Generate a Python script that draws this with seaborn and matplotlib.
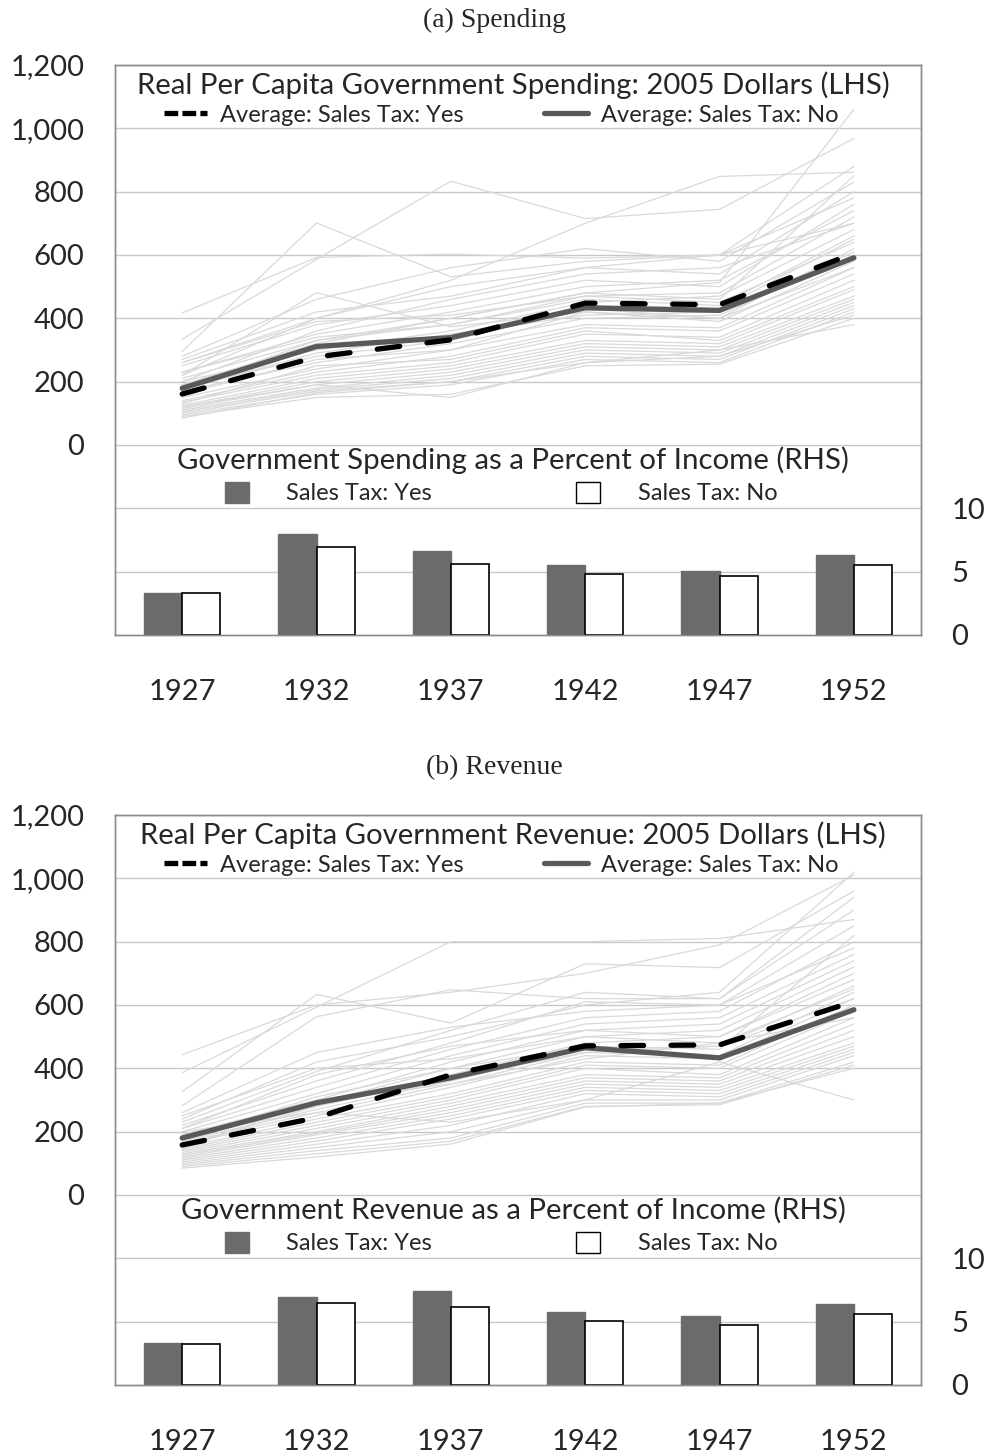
import numpy as np
import pandas as pd
import matplotlib.pyplot as plt
import seaborn as sns
from matplotlib.lines import Line2D
from matplotlib.patches import Patch
from matplotlib.ticker import FuncFormatter

sns.set_style("white")
plt.rcParams["font.family"] = ["Lato", "DejaVu Sans"]

years = ["1927", "1932", "1937", "1942", "1947", "1952"]

# averages, real per capita (2005 dollars)
spend_avg_yes = [161, 278, 332, 448, 443, 605]
spend_avg_no = [179, 311, 339, 433, 425, 591]
rev_avg_yes = [158, 244, 380, 471, 474, 611]
rev_avg_no = [180, 291, 370, 465, 433, 585]

# percent of income
spend_pct_yes = [3.33, 7.95, 6.59, 5.49, 5.06, 6.32]
spend_pct_no = [3.28, 6.95, 5.59, 4.78, 4.65, 5.54]
rev_pct_yes = [3.28, 6.98, 7.43, 5.77, 5.48, 6.37]
rev_pct_no = [3.23, 6.48, 6.17, 5.05, 4.74, 5.61]

# individual states (light grey lines)
spend_states = [
    [417, 592, 603, 590, 600, 880],
    [334, 586, 833, 715, 744, 968],
    [295, 701, 531, 580, 600, 700],
    [220, 481, 373, 420, 400, 560],
    [260, 400, 520, 700, 848, 861],
    [180, 330, 400, 480, 513, 1060],
    [270, 420, 470, 560, 540, 800],
    [250, 380, 440, 520, 500, 760],
    [230, 350, 420, 500, 520, 740],
    [210, 330, 380, 470, 480, 720],
    [200, 300, 360, 450, 470, 680],
    [190, 310, 340, 440, 430, 650],
    [180, 280, 330, 430, 400, 620],
    [170, 260, 320, 400, 410, 600],
    [160, 270, 300, 420, 390, 580],
    [150, 240, 300, 380, 370, 560],
    [140, 230, 280, 370, 360, 540],
    [135, 220, 260, 350, 340, 520],
    [130, 250, 270, 360, 330, 500],
    [125, 210, 250, 330, 320, 490],
    [120, 200, 240, 320, 310, 470],
    [115, 190, 230, 310, 300, 460],
    [110, 180, 220, 300, 290, 450],
    [105, 175, 210, 290, 280, 440],
    [100, 170, 200, 280, 270, 430],
    [95, 160, 190, 270, 260, 420],
    [90, 150, 160, 250, 255, 400],
    [85, 165, 200, 260, 300, 380],
    [120, 190, 150, 260, 280, 410],
    [280, 460, 560, 620, 580, 830],
    [220, 400, 500, 560, 600, 780],
    [200, 360, 460, 540, 560, 700],
    [260, 390, 410, 470, 450, 640],
    [190, 320, 400, 480, 460, 850],
    [230, 340, 380, 460, 440, 660],
    [175, 290, 350, 410, 420, 610],
]

rev_states = [
    [443, 600, 640, 700, 790, 1010],
    [386, 593, 800, 800, 810, 870],
    [326, 633, 543, 730, 718, 960],
    [282, 563, 648, 620, 620, 940],
    [230, 390, 520, 640, 620, 900],
    [220, 360, 480, 610, 600, 850],
    [210, 340, 460, 560, 580, 800],
    [200, 320, 440, 540, 560, 760],
    [190, 300, 420, 520, 540, 740],
    [185, 290, 400, 500, 520, 720],
    [180, 280, 380, 480, 500, 700],
    [170, 270, 360, 460, 470, 660],
    [165, 260, 350, 450, 440, 640],
    [160, 250, 340, 440, 430, 620],
    [150, 240, 320, 420, 410, 600],
    [145, 230, 310, 410, 400, 580],
    [140, 220, 300, 400, 380, 560],
    [135, 210, 290, 380, 370, 540],
    [130, 200, 280, 370, 360, 520],
    [125, 195, 270, 360, 350, 500],
    [120, 190, 260, 350, 340, 480],
    [115, 180, 250, 340, 330, 470],
    [110, 170, 240, 330, 320, 460],
    [105, 160, 220, 320, 310, 450],
    [100, 150, 200, 300, 300, 440],
    [95, 140, 180, 290, 290, 420],
    [90, 130, 170, 280, 285, 410],
    [85, 120, 161, 278, 290, 400],
    [200, 260, 230, 300, 420, 300],
    [240, 420, 500, 600, 640, 1019],
    [260, 450, 530, 580, 600, 780],
    [210, 380, 470, 520, 500, 680],
    [175, 310, 400, 470, 460, 820],
    [155, 280, 370, 450, 470, 620],
    [145, 300, 350, 430, 480, 560],
    [250, 400, 430, 500, 480, 650],
]

FRAME = "#8c8c8c"
GRID = "#c8c8c8"


def draw_panel(ax, states, avg_yes, avg_no, pct_yes, pct_no, line_title, bar_title):
    pos = np.arange(len(years))
    ax2 = ax.twinx()

    # bars on the right-hand axis
    bars = pd.DataFrame({"year": years * 2,
                         "pct": pct_yes + pct_no,
                         "tax": ["Yes"] * len(years) + ["No"] * len(years)})
    sns.barplot(data=bars, x="year", y="pct", hue="tax", hue_order=["Yes", "No"],
                palette={"Yes": "#6b6b6b", "No": "white"}, width=0.57,
                errorbar=None, legend=False, ax=ax2)
    for p in ax2.containers[0]:
        p.set_edgecolor("#6b6b6b")
        p.set_linewidth(1)
    for p in ax2.containers[1]:
        p.set_edgecolor("black")
        p.set_linewidth(1.2)

    # state lines and averages on the left-hand axis
    st = pd.DataFrame([(i, pos[j], v) for i, row in enumerate(states) for j, v in enumerate(row)],
                      columns=["state", "x", "value"])
    sns.lineplot(data=st, x="x", y="value", units="state", estimator=None,
                 color="#d9d9d9", lw=0.9, legend=False, ax=ax)
    sns.lineplot(x=pos, y=avg_no, color="#595959", lw=3.8, ax=ax, solid_capstyle="round")
    sns.lineplot(x=pos, y=avg_yes, color="black", lw=3.8, ax=ax,
                 linestyle=(0, (4.3, 5.2)), dash_capstyle="round")

    ax.set_ylim(-600, 1200)
    ax.set_yticks(range(-400, 1201, 200))
    ax.yaxis.set_major_formatter(FuncFormatter(lambda v, _: f"{int(v):,}" if v >= 0 else ""))
    ax.grid(axis="y", color=GRID, lw=1)
    ax.grid(axis="x", visible=False)
    ax.tick_params(axis="y", length=0, pad=22, labelsize=21)
    ax.set_xlabel("")
    ax.set_ylabel("")

    ax2.set_ylim(0, 45)
    ax2.set_yticks([0, 5, 10])
    ax2.tick_params(axis="y", length=0, pad=22, labelsize=21)
    ax2.grid(False)
    ax2.set_ylabel("")

    ax.set_xlim(-0.5, len(years) - 0.5)
    ax.set_xticks(np.arange(-0.5, len(years)))
    ax.set_xticklabels([""] * (len(years) + 1))
    ax.set_xticks(pos, minor=True)
    ax.set_xticklabels(years, minor=True)
    ax.tick_params(axis="x", which="major", length=8, color=FRAME, direction="out")
    ax.tick_params(axis="x", which="minor", length=0, pad=32, labelsize=21)

    for a in (ax, ax2):
        for s in a.spines.values():
            s.set_color(FRAME)
            s.set_linewidth(1)

    # legend titles as plain text, entries as legends
    ax.text(0.494, 0.965, line_title, transform=ax.transAxes, ha="center", va="center",
            fontsize=21.2)
    h1 = [Line2D([], [], color="black", lw=3.8, linestyle=(0, (2.6, 0.8))),
          Line2D([], [], color="#595959", lw=3.8)]
    ax.legend(h1, ["Average: Sales Tax: Yes", "Average: Sales Tax: No"],
              ncol=2, loc="center", bbox_to_anchor=(0.479, 0.912), frameon=False,
              fontsize=17, handlelength=1.85, handletextpad=0.55,
              columnspacing=3.4, borderpad=0.1)

    ax2.text(0.494, 0.307, bar_title, transform=ax2.transAxes, ha="center", va="center",
             fontsize=21.2)
    h2 = [Patch(facecolor="#6b6b6b", edgecolor="#6b6b6b"),
          Patch(facecolor="white", edgecolor="black")]
    ax2.legend(h2, ["Sales Tax: Yes", "Sales Tax: No"],
               ncol=2, loc="center", bbox_to_anchor=(0.479, 0.249), frameon=False,
               fontsize=17, handlelength=1.0, handleheight=1.0,
               handletextpad=1.6, columnspacing=6.1, borderpad=0.1)


fig = plt.figure(figsize=(9.89, 14.53), dpi=100)
ax_a = fig.add_axes([0.1163, 0.5630, 0.815, 0.3923])
ax_b = fig.add_axes([0.1163, 0.0468, 0.815, 0.3923])

draw_panel(ax_a, spend_states, spend_avg_yes, spend_avg_no, spend_pct_yes, spend_pct_no,
           "Real Per Capita Government Spending: 2005 Dollars (LHS)",
           "Government Spending as a Percent of Income (RHS)")
draw_panel(ax_b, rev_states, rev_avg_yes, rev_avg_no, rev_pct_yes, rev_pct_no,
           "Real Per Capita Government Revenue: 2005 Dollars (LHS)",
           "Government Revenue as a Percent of Income (RHS)")

fig.text(0.5, 0.9862, "(a) Spending", ha="center", va="center",
         family=["Liberation Serif"], fontsize=20)
fig.text(0.5, 0.4715, "(b) Revenue", ha="center", va="center",
         family=["Liberation Serif"], fontsize=20)

fig.savefig("out.png", dpi=100)
